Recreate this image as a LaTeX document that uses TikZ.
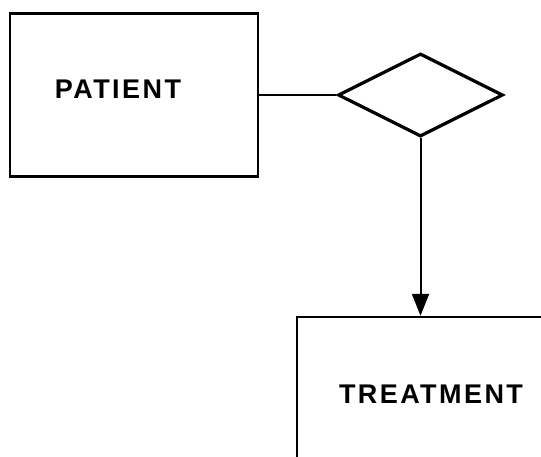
\documentclass[tikz,border=0pt]{standalone}
\usepackage{fontspec}
\setmainfont{Liberation Sans}
\newfontfamily\labelfont[LetterSpace=9]{Liberation Sans}
\usetikzlibrary{shapes.geometric,arrows.meta}
\tikzset{
  entity/.style={draw, line width=2.4pt, inner sep=0pt, minimum width=#1},
  relation/.style={draw, diamond, line width=3.2pt, inner sep=0pt, minimum width=165pt, minimum height=83pt},
  etext/.style={font=\labelfont\bfseries\fontsize{27}{30}\selectfont, inner sep=0pt},
  conn/.style={line width=2pt}
}
\begin{document}
\begin{tikzpicture}[x=1pt,y=-1pt]
\useasboundingbox (0,0) rectangle (541,456);
\clip (0,0) rectangle (541,456);
\node[entity=248pt, minimum height=163pt] (patient) at (134,95) {};
\node[etext] (ptext) at (118,89) {PATIENT};
\node[relation] (rel) at (420.5,95) {};
\node[entity=303pt, minimum height=183pt] (treat) at (448.5,408.5) {};
\node[etext] (ttext) at (431,394) {TREATMENT};
\draw[conn] (patient.east |- rel.west) -- (rel.west);
\draw[conn, -{Triangle[length=22pt,width=17pt]}] (rel.south) -- (rel.south |- treat.north);
\end{tikzpicture}
\end{document}
